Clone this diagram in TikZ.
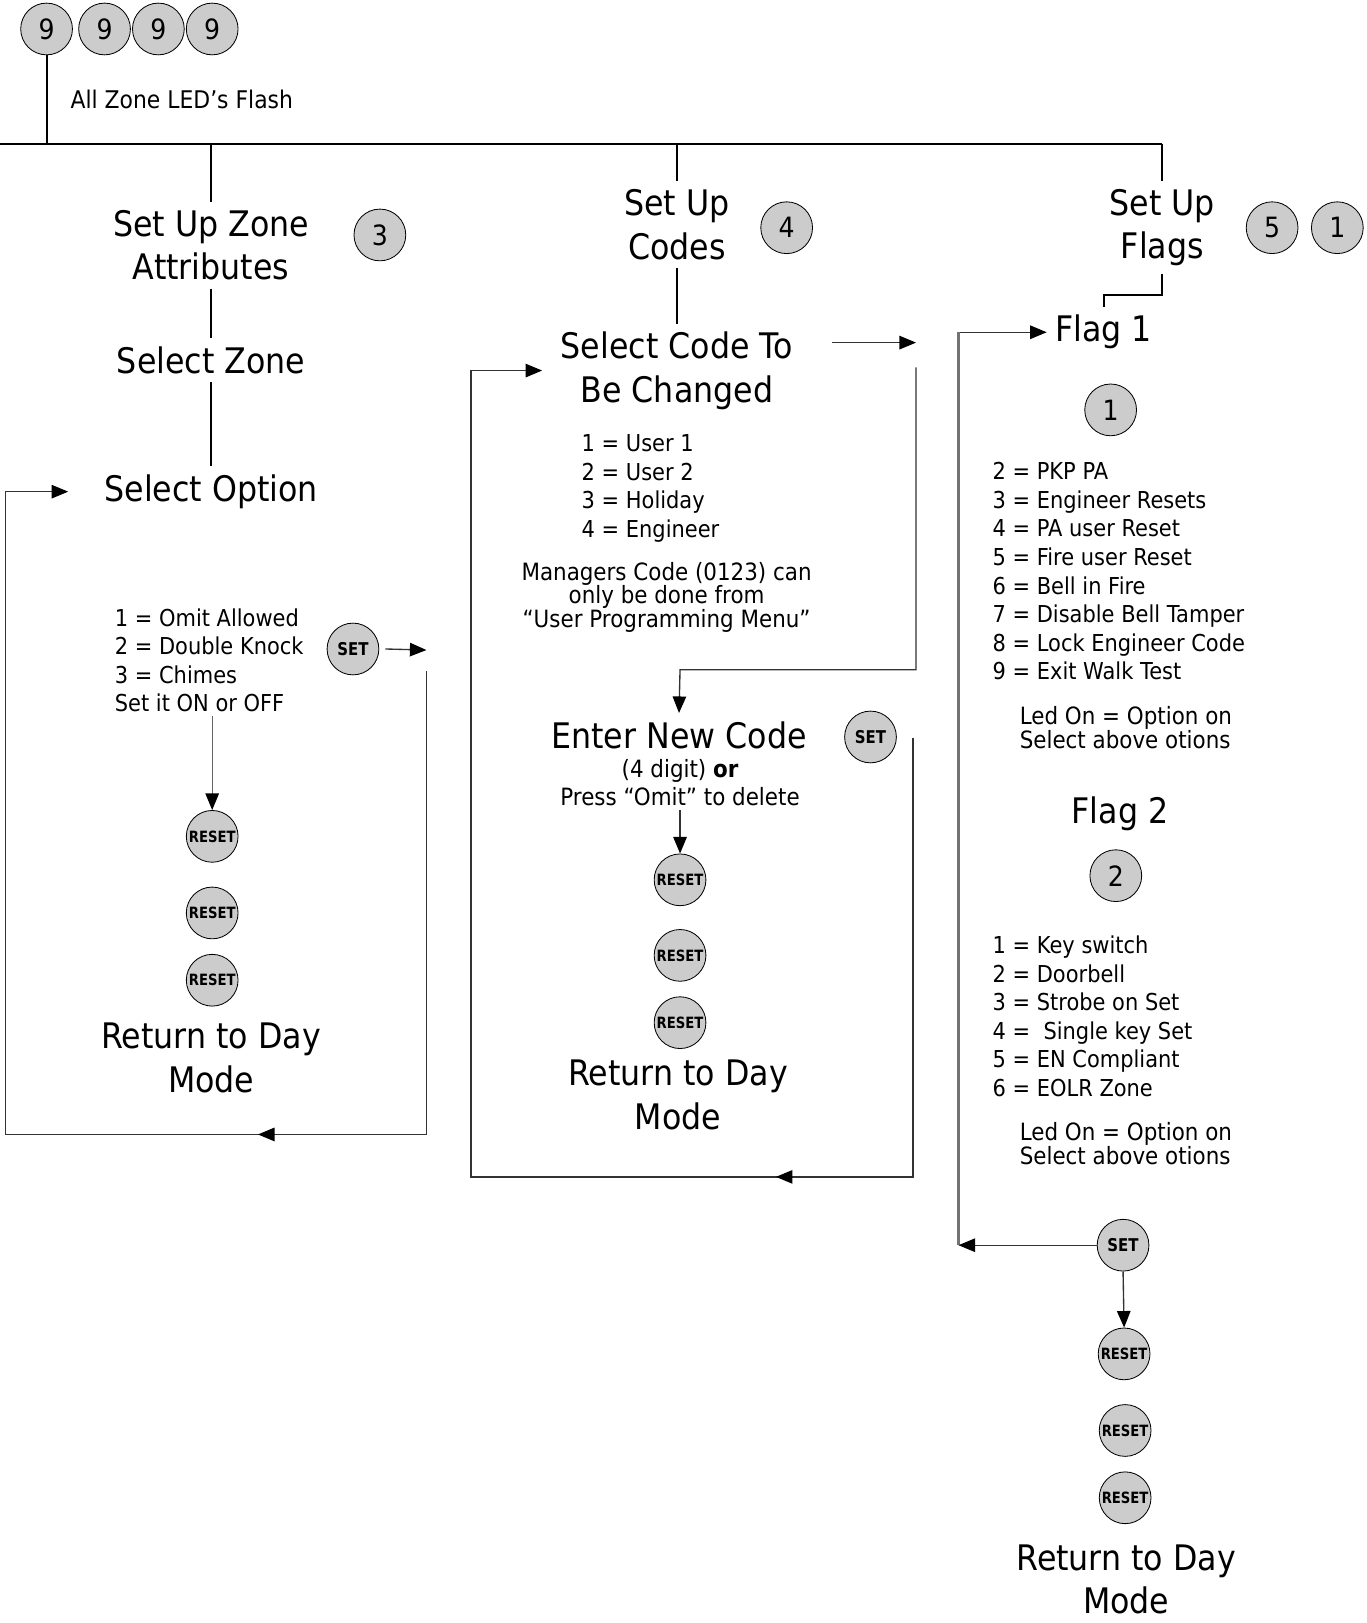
\documentclass[tikz,border=0pt]{standalone}
\usepackage{fontspec}
\setmainfont{DejaVu Sans}[FakeStretch=0.9]
\newfontfamily\btnfont{DejaVu Sans}[FakeStretch=0.85]
\usetikzlibrary{arrows.meta,calc}
\begin{document}
\begin{tikzpicture}[x=1pt,y=-1pt,
  btn/.style={circle,draw=black,line width=0.8pt,fill=black!20,minimum size=50pt,inner sep=0pt},
  num/.style={btn,font=\fontsize{27}{27}\selectfont},
  setb/.style={btn,font=\btnfont\fontsize{17}{17}\selectfont\bfseries},
  rstb/.style={btn,font=\btnfont\fontsize{15}{15}\selectfont\bfseries},
  big/.style={align=center,inner sep=0pt,outer sep=8pt,font=\fontsize{34}{42}\selectfont},
  lst/.style={align=left,inner sep=0pt,outer sep=0pt,anchor=west,font=\fontsize{22.5}{27.6}\selectfont},
  note/.style={align=center,inner sep=0pt,outer sep=4pt,font=\fontsize{23}{22.5}\selectfont},
  led/.style={align=left,inner sep=0pt,anchor=west,font=\fontsize{23}{21}\selectfont},
  tree/.style={line width=2pt,black},
  fb/.style={line width=1.3pt,black!80},
  tip/.style={-{Triangle[length=16pt,width=13pt,color=black]}},
  arr/.style={fb,tip},
]
\useasboundingbox (0,0) rectangle (1320,1568);

% ---------- top ----------
\node[num] (n9a) at (45,28) {9};
\node[num] (n9b) at (101,28) {9};
\node[num] (n9c) at (153,28) {9};
\node[num] (n9d) at (205,28) {9};
\node[anchor=west,inner sep=0pt,font=\fontsize{23.5}{28}\selectfont] (flash) at (68,96) {All Zone LED’s Flash};
\coordinate (hl) at (0,139);
\coordinate (hr) at (1123,139);
\coordinate (h9) at (45,139);
\draw[tree] (hl) -- (hr);
\draw[tree] (n9a.south) -- (h9);

% ---------- column 1 ----------
\coordinate (t1) at (204,139);
\node[big] (sz) at (204,237) {Set Up Zone\\Attributes};
\node[num] (c3) at (367,227) {3};
\node[big] (selz) at (204,348) {Select Zone};
\node[big] (so) at (204,475) {Select Option};
\draw[tree] (t1) -- (sz.north);
\draw[tree] (sz.south) -- (selz.north);
\draw[tree] (selz.south) -- (so.north);

\node[lst] (l1) at (111,638) {1 = Omit Allowed\\2 = Double Knock\\3 = Chimes\\Set it ON or OFF};
\node[setb] (s1) at (341,627) {SET};
\coordinate (a1) at (412,628);
\draw[arr] ([xshift=6pt]s1.east) -- (a1);

\node[rstb] (r1a) at (205,808) {RESET};
\node[rstb] (r1b) at (205,882) {RESET};
\node[rstb] (r1c) at (205,947) {RESET};
\draw[arr,black!60,line width=1pt] ([yshift=-4pt]r1a.north |- l1.south) -- (r1a.north);
\node[big] (rd1) at (204,1022) {Return to Day\\Mode};

\coordinate (b1) at (412,648);
\coordinate (lp1) at (5,1096);
\draw[arr] (b1) |- (lp1) |- ([xshift=-27pt]so.west);
\draw[arr] (b1 |- lp1) -- ($(b1 |- lp1)!0.4!(lp1)$);

% ---------- column 2 ----------
\coordinate (t2) at (654,139);
\node[big] (suc) at (654,217) {Set Up\\Codes};
\node[num] (c4) at (760,220) {4};
\node[big] (scc) at (654,358) {Select Code To\\Be Changed};
\draw[tree] (t2) -- (suc.north);
\draw[tree] (suc.south) -- (scc.north);

\node[lst] (l2) at (562,472) {1 = User 1\\2 = User 2\\3 = Holiday\\4 = Engineer};
\node[note] (mgr) at (644,577) {Managers Code (0123) can\\only be done from\\“User Programming Menu”};

\coordinate (a2s) at (804,331);
\coordinate (a2) at (885,331);
\draw[arr] (a2s) -- (a2);

\node[big] (enc) at (656,710) {Enter New Code};
\node[note,font=\fontsize{23}{27}\selectfont] (pr) at (657,756) {(4 digit) \textbf{or}\\Press “Omit” to delete};
\node[setb] (s2) at (841,712) {SET};
\coordinate (b2) at (885,355);
\coordinate (k2) at (657,647);
\draw[arr] (b2) |- (k2) -- (enc.north);

\node[rstb] (r2a) at (657,850) {RESET};
\node[rstb] (r2b) at (657,923) {RESET};
\node[rstb] (r2c) at (657,988) {RESET};
\draw[arr] (r2a.north |- pr.south) -- (r2a.north);
\node[big] (rd2) at (655,1058) {Return to Day\\Mode};

\coordinate (b2b) at (882,713);
\coordinate (lp2) at (455,1137);
\draw[arr] (b2b) |- (lp2) |- ([xshift=-10pt]scc.west);
\draw[arr] (b2b |- lp2) -- ($(b2b |- lp2)!0.31!(lp2)$);

% ---------- column 3 ----------
\coordinate (t3) at (1123,139);
\node[big] (suf) at (1123,220) {Set Up\\Flags};
\node[num] (c5) at (1229,220) {5};
\node[num] (c51) at (1292,220) {1};
\draw[tree] (t3) -- (suf.north);
\node[big] (f1) at (1066,321) {Flag 1};
\coordinate (k3) at (1067,285);
\draw[tree] (suf.south) |- (k3) -- (k3 |- f1.north);

\coordinate (v3) at (926,321);
\draw[arr] (v3) -- (v3 -| f1.west);
\node[num] (c1f) at (1073,396) {1};
\node[lst] (l3) at (959,552) {2 = PKP PA\\3 = Engineer Resets\\4 = PA user Reset\\5 = Fire user Reset\\6 = Bell in Fire\\7 = Disable Bell Tamper\\8 = Lock Engineer Code\\9 = Exit Walk Test};
\node[led] (led1) at (985,703) {Led On = Option on\\Select above otions};

\node[big] (f2) at (1082,786) {Flag 2};
\node[num] (c2f) at (1078,846) {2};
\node[lst] (l4) at (959,982) {1 = Key switch\\2 = Doorbell\\3 = Strobe on Set\\4 =\ \ Single key Set\\5 = EN Compliant\\6 = EOLR Zone};
\node[led] (led2) at (985,1105) {Led On = Option on\\Select above otions};

\node[setb] (s3) at (1085,1203) {SET};
\coordinate (v3b) at (926,1203);
\draw[line width=2pt,black!55] (v3) -- (v3b);
\draw[arr] (s3.west) -- (v3b);

\node[rstb] (r3a) at (1086,1308) {RESET};
\node[rstb] (r3b) at (1087,1382) {RESET};
\node[rstb] (r3c) at (1087,1447) {RESET};
\draw[arr] (s3.south) -- (r3a.north);
\node[big] (rd3) at (1088,1526) {Return to Day\\Mode};
\end{tikzpicture}
\end{document}
